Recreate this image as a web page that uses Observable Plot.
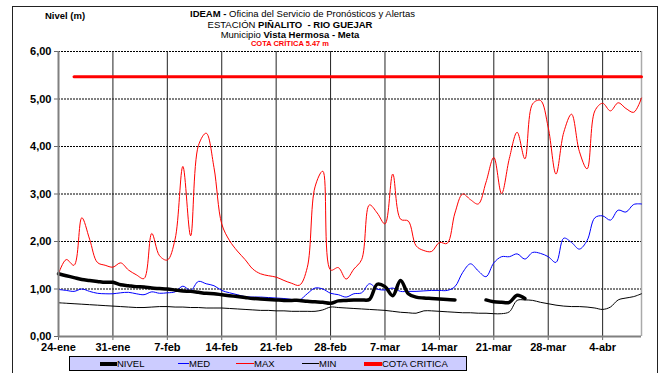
<!DOCTYPE html>
<html>
<head>
<meta charset="utf-8">
<script src="https://cdn.jsdelivr.net/npm/d3@7"></script>
<script src="https://cdn.jsdelivr.net/npm/@observablehq/plot@0.6"></script>
<style>
  html, body { margin: 0; padding: 0; background: #fff; }
  #wrap { position: relative; width: 665px; height: 373px; overflow: hidden; font-family: "Liberation Sans", Arial, sans-serif; }
  #frame { position: absolute; left: 12px; top: 6px; width: 646px; height: 380px; border: 1px solid #222; box-sizing: border-box; }
  #chart { position: absolute; left: 0; top: 0; }
  .hdr { position: absolute; left: 190px; width: 200px; text-align: center; white-space: nowrap; color: #000; }
  #ylab { position: absolute; left: 45px; top: 10px; font-size: 9.5px; font-weight: bold; }
  #legend { position: absolute; left: 69px; top: 356px; width: 398px; height: 15px; background: #ccccff; border: 1px solid #000; box-sizing: border-box; font-size: 9.5px; }
  .li { position: absolute; top: 0; height: 13px; line-height: 13px; white-space: nowrap; }
  .sw { position: absolute; top: 6px; }
</style>
</head>
<body>
<div id="wrap">
  <div id="frame"></div>
  <div id="chart"></div>
  <div id="ylab">Nivel (m)</div>
  <div class="hdr" style="top:8px;font-size:9.5px;line-height:11px;"><b>IDEAM -</b> Oficina del Servicio de Pronósticos y Alertas</div>
  <div class="hdr" style="top:18.5px;font-size:9.5px;line-height:11px;">ESTACIÓN <b>PIÑALITO&nbsp; - RIO GUEJAR</b></div>
  <div class="hdr" style="top:29px;font-size:9.5px;line-height:11px;">Municipio <b>Vista Hermosa - Meta</b></div>
  <div class="hdr" style="top:38.5px;font-size:7.5px;line-height:9px;color:#ff0000;font-weight:bold;">COTA CRÍTICA 5.47 m</div>
  <div id="legend"></div>
</div>
<script>
// ---- Data (daily, from 24-ene) ----
const startYear = 2011, startMonth = 0, startDay = 24;
const nivel = [1.32,1.28,1.24,1.20,1.18,1.16,1.14,1.14,1.09,1.07,1.05,1.04,1.02,1.01,1.00,0.98,0.96,0.95,0.93,0.91,
               0.90,0.88,0.86,0.84,0.82,0.80,0.79,0.78,0.77,0.76,0.76,0.76,0.74,0.73,0.72,0.70,0.75,0.76,0.77,0.77,
               0.78,1.10,1.05,0.86,1.18,0.90,0.83,0.81,0.80,0.79,0.78,0.77,null,null,null,0.77,0.73,0.72,0.72,0.87,
               0.80,null,null,null,null,null,null,null,null,null,null,null,null,null,null,null];
const med = [0.99,0.97,0.95,1.00,0.95,0.91,0.90,0.90,0.92,0.93,0.90,0.88,0.94,0.91,0.92,0.94,1.06,0.97,1.16,1.11,
             1.07,0.97,0.92,0.88,0.84,0.83,0.83,0.82,0.81,0.80,0.78,0.77,0.90,1.02,1.00,0.91,0.88,0.83,0.90,0.92,
             1.11,1.00,0.98,1.02,0.95,0.95,0.95,0.96,0.97,0.97,0.97,1.05,1.35,1.53,1.38,1.26,1.55,1.68,1.68,1.74,
             1.63,1.77,1.75,1.68,1.56,2.07,1.98,1.84,2.02,2.50,2.54,2.45,2.66,2.62,2.78,2.79];
const maxv = [1.32,1.62,1.50,2.50,2.05,1.56,1.50,1.46,1.55,1.40,1.30,1.22,2.17,1.70,1.61,2.05,3.58,2.12,4.02,4.28,
              3.56,2.37,2.02,1.80,1.62,1.42,1.32,1.28,1.25,1.18,1.12,1.08,1.45,3.15,3.48,1.40,1.45,1.21,1.42,1.62,
              2.77,2.60,2.37,3.42,2.47,2.43,1.91,1.81,1.79,1.98,1.96,2.60,3.00,2.88,2.79,3.25,3.77,3.01,3.75,4.30,
              3.74,4.90,4.97,4.40,3.42,4.30,4.68,3.90,3.53,4.75,4.91,4.75,4.92,4.80,4.72,5.02];
const minv = [0.71,0.70,0.69,0.68,0.67,0.66,0.65,0.64,0.63,0.62,0.61,0.61,0.62,0.63,0.63,0.62,0.62,0.61,0.61,0.60,
              0.60,0.60,0.59,0.58,0.57,0.56,0.55,0.55,0.54,0.54,0.53,0.53,0.53,0.53,0.56,0.62,0.61,0.60,0.59,0.58,
              0.57,0.56,0.55,0.53,0.51,0.50,0.49,0.54,0.54,0.53,0.52,0.51,0.50,0.50,0.49,0.49,0.48,0.48,0.52,0.76,
              0.77,0.76,0.72,0.69,0.66,0.64,0.63,0.63,0.62,0.60,0.57,0.62,0.77,0.81,0.84,0.90];
const cotaCritica = 5.47;
const cotaStartIndex = 2;
const yTicks = [0, 1, 2, 3, 4, 5, 6];
const monthNames = ["ene","feb","mar","abr","may","jun","jul","ago","sep","oct","nov","dic"];
const tickStepDays = 7;
const seriesNames = ["NIVEL","MED","MAX","MIN","COTA CRITICA"];

// ---- Build table ----
const dayMs = 86400000;
const t0 = Date.UTC(startYear, startMonth, startDay);
const dates = maxv.map((_, i) => new Date(t0 + i * dayMs));
const rows = dates.map((date, i) => ({date, nivel: nivel[i], med: med[i], max: maxv[i], min: minv[i],
  cota: i >= cotaStartIndex ? cotaCritica : null}));
const xTicks = dates.filter((_, i) => i % tickStepDays === 0);
const endDate = dates[dates.length - 1];
const fmtX = d => `${d.getUTCDate()}-${monthNames[d.getUTCMonth()]}`;
const fmtY = v => d3.format(".2f")(v).replace(".", ",");

const chart = Plot.plot({
  width: 665, height: 373,
  marginLeft: 58, marginRight: 24, marginTop: 51, marginBottom: 37,
  style: {fontFamily: "'Liberation Sans', Arial, sans-serif", background: "transparent", overflow: "visible"},
  x: {type: "utc", domain: [dates[0], endDate]},
  y: {domain: [0, 6]},
  marks: [
    Plot.gridY(yTicks, {stroke: "#000", strokeOpacity: 1, strokeDasharray: "2,1", strokeWidth: 1}),
    Plot.gridX(xTicks, {stroke: "#222", strokeOpacity: 1, strokeWidth: 1}),
    Plot.ruleX([endDate], {stroke: "#aaa", strokeWidth: 1.5}),
    Plot.axisY(yTicks, {tickFormat: fmtY, fontWeight: "bold", fontSize: 11, tickSize: 4, tickPadding: 3, stroke: "#666"}),
    Plot.axisX(xTicks, {tickFormat: fmtX, fontWeight: "bold", fontSize: 11, tickSize: 4, tickPadding: 3, stroke: "#666"}),
    Plot.line(rows, {x: "date", y: "min", stroke: "#000", strokeWidth: 1, curve: "catmull-rom"}),
    Plot.line(rows, {x: "date", y: "max", stroke: "#ff0000", strokeWidth: 1, curve: "catmull-rom"}),
    Plot.line(rows, {x: "date", y: "med", stroke: "#0000ff", strokeWidth: 1, curve: "catmull-rom"}),
    Plot.line(rows, {x: "date", y: "nivel", stroke: "#000", strokeWidth: 3.5, curve: "catmull-rom"}),
    Plot.line(rows, {x: "date", y: "cota", stroke: "#ff0000", strokeWidth: 3}),
    Plot.ruleX([dates[0]], {stroke: "#808080", strokeWidth: 2}),
    Plot.ruleY([0], {stroke: "#808080", strokeWidth: 2})
  ]
});
document.getElementById("chart").appendChild(chart);

// ---- Legend ----
const legendItems = [
  {name: seriesNames[0], color: "#000", w: 4, sx: 30, tx: 47},
  {name: seriesNames[1], color: "#0000ff", w: 1, sx: 108, tx: 119},
  {name: seriesNames[2], color: "#ff0000", w: 1, sx: 166, tx: 184},
  {name: seriesNames[3], color: "#000", w: 1, sx: 232, tx: 249},
  {name: seriesNames[4], color: "#ff0000", w: 4, sx: 294, tx: 312}
];
const lg = document.getElementById("legend");
legendItems.forEach(it => {
  const sw = document.createElement("div");
  sw.className = "sw";
  sw.style.left = it.sx + "px";
  sw.style.width = (it.tx - it.sx) + "px";
  sw.style.height = it.w + "px";
  sw.style.top = (6.5 - it.w / 2) + "px";
  sw.style.background = it.color;
  lg.appendChild(sw);
  const t = document.createElement("div");
  t.className = "li";
  t.style.left = it.tx + "px";
  t.textContent = it.name;
  lg.appendChild(t);
});
</script>
</body>
</html>
